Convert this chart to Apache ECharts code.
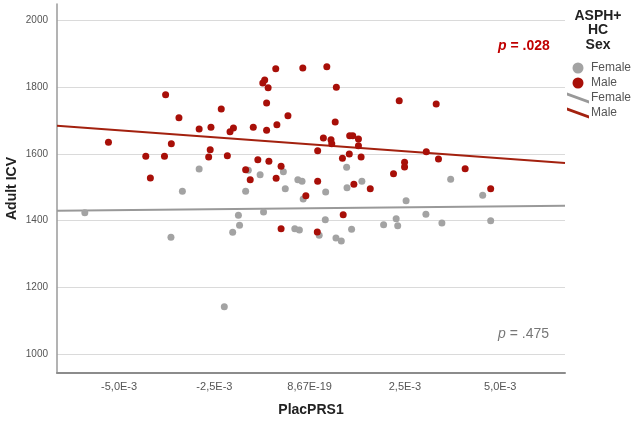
<!DOCTYPE html>
<html>
<head>
<meta charset="utf-8">
<script src="https://cdn.jsdelivr.net/npm/echarts@6/dist/echarts.min.js"></script>
<style>
  html, body { margin: 0; padding: 0; background: #fff; }
  #chart { width: 633px; height: 422px; }
</style>
</head>
<body>
<div id="chart"></div>
<script>
  // PlacPRS1 vs Adult ICV, split by sex
  var femalePoints = [
    [-5.90e-3, 1424], [-3.64e-3, 1350], [-3.34e-3, 1488], [-2.90e-3, 1555], [-2.24e-3, 1142],
    [-2.02e-3, 1365], [-1.87e-3, 1416], [-1.84e-3, 1386], [-1.68e-3, 1488], [-1.61e-3, 1551],
    [-1.30e-3, 1538], [-1.21e-3, 1426], [-0.69e-3, 1547], [-0.64e-3, 1496], [-0.39e-3, 1376],
    [-0.31e-3, 1523], [-0.27e-3, 1372], [-0.20e-3, 1518], [-0.17e-3, 1465], [0.25e-3, 1356],
    [0.41e-3, 1403], [0.42e-3, 1486], [0.69e-3, 1348], [0.83e-3, 1339], [0.97e-3, 1560],
    [0.98e-3, 1499], [1.10e-3, 1374], [1.37e-3, 1518], [1.94e-3, 1388], [2.27e-3, 1406],
    [2.31e-3, 1385], [2.53e-3, 1460], [3.05e-3, 1419], [3.47e-3, 1393], [3.70e-3, 1524],
    [4.54e-3, 1476], [4.75e-3, 1400]
  ]
  var malePoints = [
    [-5.28e-3, 1635], [-4.30e-3, 1593], [-4.18e-3, 1528], [-3.81e-3, 1593], [-3.78e-3, 1778],
    [-3.63e-3, 1631], [-3.43e-3, 1709], [-2.90e-3, 1675], [-2.65e-3, 1591], [-2.61e-3, 1613],
    [-2.59e-3, 1680], [-2.32e-3, 1735], [-2.16e-3, 1595], [-2.09e-3, 1667], [-2.00e-3, 1678],
    [-1.68e-3, 1553], [-1.56e-3, 1523], [-1.48e-3, 1680], [-1.36e-3, 1583], [-1.23e-3, 1813],
    [-1.18e-3, 1822], [-1.13e-3, 1753], [-1.13e-3, 1671], [-1.09e-3, 1799], [-1.07e-3, 1578],
    [-0.89e-3, 1856], [-0.88e-3, 1527], [-0.86e-3, 1688], [-0.75e-3, 1563], [-0.75e-3, 1376],
    [-0.57e-3, 1715], [-0.18e-3, 1858], [-0.10e-3, 1475], [0.20e-3, 1366], [0.21e-3, 1610],
    [0.21e-3, 1518], [0.36e-3, 1648], [0.45e-3, 1862], [0.56e-3, 1643], [0.58e-3, 1631],
    [0.67e-3, 1696], [0.70e-3, 1800], [0.86e-3, 1587], [0.88e-3, 1418], [1.04e-3, 1600],
    [1.05e-3, 1655], [1.13e-3, 1655], [1.16e-3, 1509], [1.28e-3, 1645], [1.28e-3, 1625],
    [1.35e-3, 1591], [1.59e-3, 1496], [2.20e-3, 1541], [2.35e-3, 1760], [2.49e-3, 1575],
    [2.49e-3, 1561], [3.06e-3, 1607], [3.32e-3, 1750], [3.38e-3, 1585], [4.08e-3, 1556],
    [4.75e-3, 1496]
  ]
  // fit lines, ends at the x axis limits
  var xMin = -6.63e-3
  var xMax = 6.70e-3
  var femaleFit = [[xMin, 1430], [xMax, 1445]]
  var maleFit = [[xMin, 1685], [xMax, 1573]]

  var xTickValues = [-5e-3, -2.5e-3, 0, 2.5e-3, 5e-3]
  var xTickLabels = ['-5,0E-3', '-2,5E-3', '8,67E-19', '2,5E-3', '5,0E-3']
  var yTickValues = [1000, 1200, 1400, 1600, 1800, 2000]
  var legendTitle = ['ASPH+', 'HC', 'Sex']

  var grey = '#a3a3a3'
  var red = '#a80f08'
  var font = 'Liberation Sans, Arial, sans-serif'
  var lineIcon = 'path://M0,0L22,8L22,11L0,3Z'

  var graphics = legendTitle.map(function (t, i) {
    return {
      type: 'text', x: 598, y: 16 + i * 14.5,
      style: { text: t, textAlign: 'center', textVerticalAlign: 'middle', font: 'bold 14px ' + font, fill: '#222' }
    }
  })
  graphics.push({
    type: 'text', x: 498, y: 46,
    style: {
      text: '{i|p} = .028', textVerticalAlign: 'middle',
      font: 'bold 14px ' + font, fill: '#c00000',
      rich: { i: { fontStyle: 'italic', fontWeight: 'bold', fontSize: 14, fontFamily: font, fill: '#c00000' } }
    }
  })
  graphics.push({
    type: 'text', x: 498, y: 334,
    style: {
      text: '{i|p} = .475', textVerticalAlign: 'middle',
      font: '14px ' + font, fill: '#777',
      rich: { i: { fontStyle: 'italic', fontSize: 14, fontFamily: font, fill: '#777' } }
    }
  })

  var chart = echarts.init(document.getElementById('chart'))
  chart.setOption({
    animation: false,
    textStyle: { fontFamily: font },
    grid: { left: 57, right: 68, top: 4, bottom: 49, containLabel: false, outerBoundsMode: 'none' },
    xAxis: {
      type: 'value',
      min: xMin,
      max: xMax,
      name: 'PlacPRS1',
      nameLocation: 'middle',
      nameGap: 30,
      nameTextStyle: { fontSize: 14, fontWeight: 'bold', color: '#222' },
      axisLine: { onZero: false, lineStyle: { color: '#8c8c8c', width: 2 } },
      axisTick: { show: false, customValues: xTickValues },
      axisLabel: {
        customValues: xTickValues,
        fontSize: 11,
        color: '#555',
        margin: 8,
        formatter: function (v) {
          for (var i = 0; i < xTickValues.length; i++) {
            if (Math.abs(v - xTickValues[i]) < 1e-9) return xTickLabels[i]
          }
          return ''
        }
      },
      splitLine: { show: false }
    },
    yAxis: {
      type: 'value',
      min: 943,
      max: 2050,
      name: 'Adult ICV',
      nameLocation: 'middle',
      nameGap: 38,
      nameMoveOverlap: false,
      nameTextStyle: { fontSize: 14, fontWeight: 'bold', color: '#222' },
      axisLine: { show: true, onZero: false, lineStyle: { color: '#9a9a9a', width: 1.5 } },
      axisTick: { show: false, customValues: yTickValues },
      axisLabel: {
        customValues: yTickValues, fontSize: 10, color: '#555', margin: 9,
        formatter: function (v) { return String(v) }
      },
      splitLine: { show: true, lineStyle: { color: '#dadada', width: 1 } }
    },
    legend: {
      orient: 'vertical',
      left: 567,
      top: 62,
      padding: 0,
      itemWidth: 22,
      itemHeight: 11,
      itemGap: 3,
      textStyle: { fontSize: 12, color: '#555', padding: [0, 0, 0, -3] },
      formatter: function (name) { return name.replace(' fit', '') },
      data: [
        { name: 'Female', icon: 'circle' },
        { name: 'Male', icon: 'circle' },
        { name: 'Female fit', icon: lineIcon },
        { name: 'Male fit', icon: lineIcon }
      ]
    },
    graphic: graphics,
    series: [
      {
        name: 'Female fit',
        type: 'line',
        data: femaleFit,
        showSymbol: false,
        itemStyle: { color: '#999' },
        lineStyle: { color: '#999', width: 2 },
        z: 1
      },
      {
        name: 'Male fit',
        type: 'line',
        data: maleFit,
        showSymbol: false,
        itemStyle: { color: '#a3210f' },
        lineStyle: { color: '#a3210f', width: 2 },
        z: 1
      },
      {
        name: 'Female',
        type: 'scatter',
        data: femalePoints,
        symbolSize: 7,
        itemStyle: { color: grey, opacity: 1 },
        z: 2
      },
      {
        name: 'Male',
        type: 'scatter',
        data: malePoints,
        symbolSize: 7,
        itemStyle: { color: red, opacity: 1 },
        z: 3
      }
    ]
  })
</script>
</body>
</html>
